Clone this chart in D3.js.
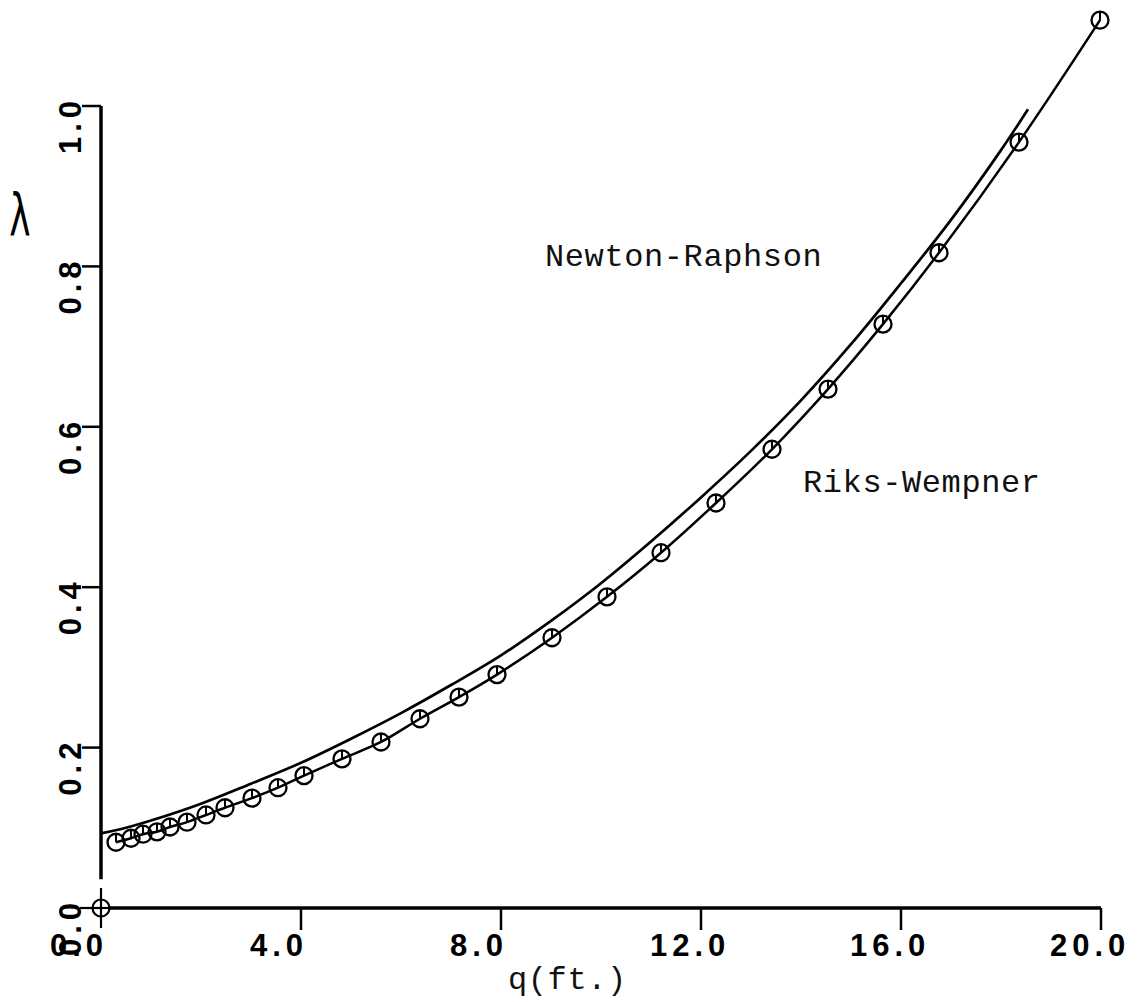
<!DOCTYPE html>
<html>
<head>
<meta charset="utf-8">
<script src="https://cdn.jsdelivr.net/npm/d3@7"></script>
<style>
  html, body { margin: 0; padding: 0; background: #fff; }
  svg { display: block; }
  .tick-label { font-family: "Liberation Sans", Arial, sans-serif; font-size: 31px; font-weight: bold; letter-spacing: 5px; fill: #000; }
  .note { font-family: "Liberation Mono", "Courier New", monospace; font-size: 32px; letter-spacing: 0.6px; fill: #111; }
</style>
</head>
<body>
<script>
// Axis ticks
const xTicks = [0, 4, 8, 12, 16, 20];
const xTickLabels = ["0.0", "4.0", "8.0", "12.0", "16.0", "20.0"];
const yTicks = [0, 0.2, 0.4, 0.6, 0.8, 1.0];
const yTickLabels = ["0.0", "0.2", "0.4", "0.6", "0.8", "1.0"];

// Riks-Wempner path: displacement q (ft.) and load factor lambda
const riksQ = [0.30, 0.60, 0.84, 1.12, 1.38, 1.72, 2.10, 2.48, 3.02, 3.54, 4.06, 4.82, 5.60,
               6.38, 7.16, 7.92, 9.02, 10.12, 11.20, 12.30, 13.42, 14.54, 15.64, 16.76, 18.36, 19.98];
const riksLambda = [0.082, 0.087, 0.092, 0.095, 0.101, 0.107, 0.116, 0.125, 0.137, 0.150, 0.165, 0.186, 0.207,
                    0.236, 0.263, 0.291, 0.337, 0.388, 0.443, 0.505, 0.572, 0.647, 0.728, 0.817, 0.955, 1.107];

// Newton-Raphson path
const newtonQ = [0, 0.5, 1, 2, 3, 4, 5, 6, 7, 8, 9, 10, 11, 12, 13, 14, 15, 16, 17, 18, 18.54];
const newtonLambda = [0.093, 0.100, 0.109, 0.130, 0.155, 0.181, 0.211, 0.243, 0.278, 0.315, 0.358, 0.405,
                      0.457, 0.512, 0.570, 0.633, 0.703, 0.779, 0.858, 0.945, 0.996];

// Starting point of the load path
const originQ = [0];
const originLambda = [0];

const W = 1143, H = 1002;
const svg = d3.select("body").append("svg").attr("width", W).attr("height", H);

const x = d3.scaleLinear().domain([0, 20]).range([101, 1101]);
const y = d3.scaleLinear().domain([0, 1]).range([908, 106]);

const ink = "#000";

// Axes
const g = svg.append("g");
// x axis line
g.append("line")
  .attr("x1", x(0) + 9).attr("x2", x(20))
  .attr("y1", y(0)).attr("y2", y(0))
  .attr("stroke", ink).attr("stroke-width", 3.5);
// y axis line (stops short of the origin marker)
g.append("line")
  .attr("x1", x(0)).attr("x2", x(0))
  .attr("y1", y(1.0)).attr("y2", y(0.036))
  .attr("stroke", ink).attr("stroke-width", 3.5);

// x ticks and labels (labels start a fixed distance left of each tick)
xTicks.forEach((t, i) => {
  if (t !== 0) {
    g.append("line")
      .attr("x1", x(t)).attr("x2", x(t))
      .attr("y1", y(0)).attr("y2", y(0) + 22)
      .attr("stroke", ink).attr("stroke-width", 2.5);
  }
  g.append("text").attr("class", "tick-label")
    .attr("x", x(t) - 51).attr("y", 956)
    .attr("text-anchor", "start")
    .text(xTickLabels[i]);
});

// y ticks and labels (rotated)
yTicks.forEach((t, i) => {
  if (t !== 0) {
    g.append("line")
      .attr("x1", x(0) - 19).attr("x2", x(0))
      .attr("y1", y(t)).attr("y2", y(t))
      .attr("stroke", ink).attr("stroke-width", 2.5);
  }
  const ty = y(t) - 5;
  g.append("text").attr("class", "tick-label")
    .attr("transform", `translate(81,${ty}) rotate(-90)`)
    .attr("text-anchor", "start")
    .attr("x", 0).attr("y", 0)
    .text(yTickLabels[i])
    .each(function () {
      // place the end of the label near the tick
      const len = this.getComputedTextLength();
      d3.select(this).attr("x", -len + 5);
    });
});

// Origin marker: circle with cross-hair arms
originQ.forEach((q, i) => {
  const cx = x(q), cy = y(originLambda[i]);
  g.append("circle").attr("cx", cx).attr("cy", cy).attr("r", 8.5)
    .attr("fill", "none").attr("stroke", ink).attr("stroke-width", 2.2);
  g.append("line").attr("x1", cx - 21).attr("x2", cx + 9).attr("y1", cy).attr("y2", cy)
    .attr("stroke", ink).attr("stroke-width", 2.2);
  g.append("line").attr("x1", cx).attr("x2", cx).attr("y1", cy - 20).attr("y2", cy + 20)
    .attr("stroke", ink).attr("stroke-width", 2.2);
});

// Curves
const line = d3.line().curve(d3.curveCatmullRom.alpha(0.5))
  .x(d => x(d[0])).y(d => y(d[1]));

const newtonPts = newtonQ.map((q, i) => [q, newtonLambda[i]]);
const riksPts = riksQ.map((q, i) => [q, riksLambda[i]]);

svg.append("path").attr("d", line(newtonPts))
  .attr("fill", "none").attr("stroke", ink).attr("stroke-width", 2.7);

svg.append("path").attr("d", line(riksPts))
  .attr("fill", "none").attr("stroke", ink).attr("stroke-width", 2.5);

// Riks-Wempner markers
const mk = svg.append("g");
riksPts.forEach(d => {
  const cx = x(d[0]), cy = y(d[1]);
  mk.append("circle").attr("cx", cx).attr("cy", cy).attr("r", 8.5)
    .attr("fill", "none").attr("stroke", ink).attr("stroke-width", 2.3);
  mk.append("line").attr("x1", cx).attr("x2", cx).attr("y1", cy).attr("y2", cy - 8.5)
    .attr("stroke", ink).attr("stroke-width", 2);
});

// Annotations
svg.append("text").attr("class", "note").attr("x", 545).attr("y", 266).text("Newton-Raphson");
svg.append("text").attr("class", "note").attr("x", 803).attr("y", 492).text("Riks-Wempner");
svg.append("text").attr("class", "note").attr("x", 508).attr("y", 989).text("q(ft.)");

// lambda axis title
svg.append("text")
  .attr("transform", "translate(20,236) scale(0.62,1)")
  .attr("text-anchor", "middle")
  .attr("font-family", "'DejaVu Sans', sans-serif")
  .attr("font-size", 58)
  .attr("fill", ink)
  .text("λ");
</script>
</body>
</html>
